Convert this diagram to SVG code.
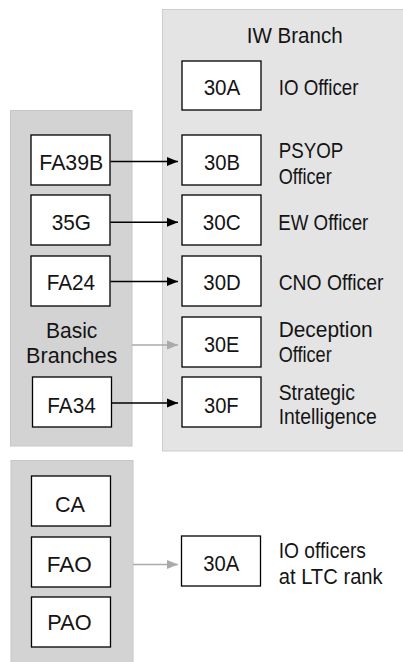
<svg xmlns="http://www.w3.org/2000/svg" width="403" height="662" viewBox="0 0 403 662">
<style>
  .dark { fill: #d3d3d3; stroke: #c6c6c6; stroke-width: 1; }
  .light { fill: #e4e4e4; stroke: #cdcdcd; stroke-width: 1; }
  .box { fill: #ffffff; stroke: #000000; stroke-width: 1.3; }
  text { font-family: "Liberation Sans", Arial, sans-serif; font-size: 22.5px; fill: #141414; }
  .c { text-anchor: middle; }
  .arrow { stroke: #000000; stroke-width: 1.6; fill: none; }
  .garrow { stroke: #aaaaaa; stroke-width: 1.6; fill: none; }
</style>
<defs>
  <marker id="ah" markerUnits="userSpaceOnUse" markerWidth="12" markerHeight="10" refX="11" refY="5" orient="auto">
    <path d="M0,0.5 L11,5 L0,9.5 Z" fill="#000000"/>
  </marker>
  <marker id="gah" markerUnits="userSpaceOnUse" markerWidth="12" markerHeight="10" refX="11" refY="5" orient="auto">
    <path d="M0,0.5 L11,5 L0,9.5 Z" fill="#aaaaaa"/>
  </marker>
</defs>

<g id="panels">
  <rect id="iw-panel" class="light" x="162.5" y="9.5" width="242" height="441.5"/>
  <rect id="basic-panel" class="dark" x="10.5" y="110.5" width="121.5" height="335.5"/>
  <rect id="bottom-panel" class="dark" x="11" y="460.5" width="122" height="205"/>
</g>

<g id="iw-title"><text x="246.7" y="42.7" textLength="96" lengthAdjust="spacingAndGlyphs">IW Branch</text></g>
<g id="basic-title">
  <text class="c" x="71.7" y="338.3" textLength="51.3" lengthAdjust="spacingAndGlyphs">Basic</text>
  <text class="c" x="71.7" y="363.3" textLength="91.3" lengthAdjust="spacingAndGlyphs">Branches</text>
</g>

<g id="connectors">
  <line class="arrow" x1="110.5" y1="161.5" x2="178" y2="161.5" marker-end="url(#ah)"/>
  <line class="arrow" x1="110.5" y1="222.3" x2="178" y2="222.3" marker-end="url(#ah)"/>
  <line class="arrow" x1="110.5" y1="281.5" x2="178" y2="281.5" marker-end="url(#ah)"/>
  <line class="garrow" x1="132" y1="345" x2="178" y2="345" marker-end="url(#gah)"/>
  <line class="arrow" x1="111.5" y1="403" x2="178" y2="403" marker-end="url(#ah)"/>
  <line class="garrow" x1="133" y1="564.5" x2="178" y2="564.5" marker-end="url(#gah)"/>
</g>

<g id="n-30A">
  <rect class="box" x="182" y="61" width="79" height="49"/>
  <text class="c" x="222" y="95" textLength="36.7" lengthAdjust="spacingAndGlyphs">30A</text>
  <text x="278.7" y="95" textLength="79.7" lengthAdjust="spacingAndGlyphs">IO Officer</text>
</g>
<g id="n-FA39B">
  <rect class="box" x="31" y="135" width="79" height="50"/>
  <text class="c" x="71.3" y="170" textLength="64" lengthAdjust="spacingAndGlyphs">FA39B</text>
</g>
<g id="n-30B">
  <rect class="box" x="182" y="135" width="79" height="50"/>
  <text class="c" x="222" y="170" textLength="36" lengthAdjust="spacingAndGlyphs">30B</text>
  <text x="278.7" y="158.3" textLength="64.6" lengthAdjust="spacingAndGlyphs">PSYOP</text>
  <text x="278.7" y="184.3" textLength="53" lengthAdjust="spacingAndGlyphs">Officer</text>
</g>
<g id="n-35G">
  <rect class="box" x="31" y="195" width="79" height="50"/>
  <text class="c" x="71.3" y="230" textLength="39.3" lengthAdjust="spacingAndGlyphs">35G</text>
</g>
<g id="n-30C">
  <rect class="box" x="182" y="195" width="79" height="50"/>
  <text class="c" x="221.7" y="230" textLength="38" lengthAdjust="spacingAndGlyphs">30C</text>
  <text x="278.3" y="230" textLength="90" lengthAdjust="spacingAndGlyphs">EW Officer</text>
</g>
<g id="n-FA24">
  <rect class="box" x="31" y="256" width="79" height="50"/>
  <text class="c" x="70.8" y="290" textLength="48.3" lengthAdjust="spacingAndGlyphs">FA24</text>
</g>
<g id="n-30D">
  <rect class="box" x="182" y="256" width="79" height="50"/>
  <text class="c" x="222" y="290" textLength="37.4" lengthAdjust="spacingAndGlyphs">30D</text>
  <text x="278.7" y="290" textLength="104.7" lengthAdjust="spacingAndGlyphs">CNO Officer</text>
</g>
<g id="n-30E">
  <rect class="box" x="182" y="317" width="79" height="50"/>
  <text class="c" x="221.7" y="351.7" textLength="35.3" lengthAdjust="spacingAndGlyphs">30E</text>
  <text x="278.7" y="336.5" textLength="94" lengthAdjust="spacingAndGlyphs">Deception</text>
  <text x="278.7" y="361.7" textLength="53" lengthAdjust="spacingAndGlyphs">Officer</text>
</g>
<g id="n-FA34">
  <rect class="box" x="32.5" y="377" width="79" height="50"/>
  <text class="c" x="71.5" y="413.3" textLength="48.4" lengthAdjust="spacingAndGlyphs">FA34</text>
</g>
<g id="n-30F">
  <rect class="box" x="182" y="377" width="79" height="50"/>
  <text class="c" x="221.3" y="413.3" textLength="34.7" lengthAdjust="spacingAndGlyphs">30F</text>
  <text x="278.7" y="399.5" textLength="76.3" lengthAdjust="spacingAndGlyphs">Strategic</text>
  <text x="278.7" y="423.5" textLength="98" lengthAdjust="spacingAndGlyphs">Intelligence</text>
</g>
<g id="n-CA">
  <rect class="box" x="31.5" y="476" width="79" height="50"/>
  <text class="c" x="70" y="511.7" textLength="30" lengthAdjust="spacingAndGlyphs">CA</text>
</g>
<g id="n-FAO">
  <rect class="box" x="31.5" y="537" width="79" height="50"/>
  <text class="c" x="69.2" y="571.7" textLength="45" lengthAdjust="spacingAndGlyphs">FAO</text>
</g>
<g id="n-PAO">
  <rect class="box" x="31.5" y="597" width="79" height="50"/>
  <text class="c" x="69.5" y="630" textLength="44.3" lengthAdjust="spacingAndGlyphs">PAO</text>
</g>
<g id="n-30A-ltc">
  <rect class="box" x="181.5" y="536" width="79" height="50"/>
  <text class="c" x="221.3" y="570.7" textLength="36" lengthAdjust="spacingAndGlyphs">30A</text>
  <text x="278.7" y="558.3" textLength="87.3" lengthAdjust="spacingAndGlyphs">IO officers</text>
  <text x="278.7" y="584" textLength="104" lengthAdjust="spacingAndGlyphs">at LTC rank</text>
</g>
</svg>
